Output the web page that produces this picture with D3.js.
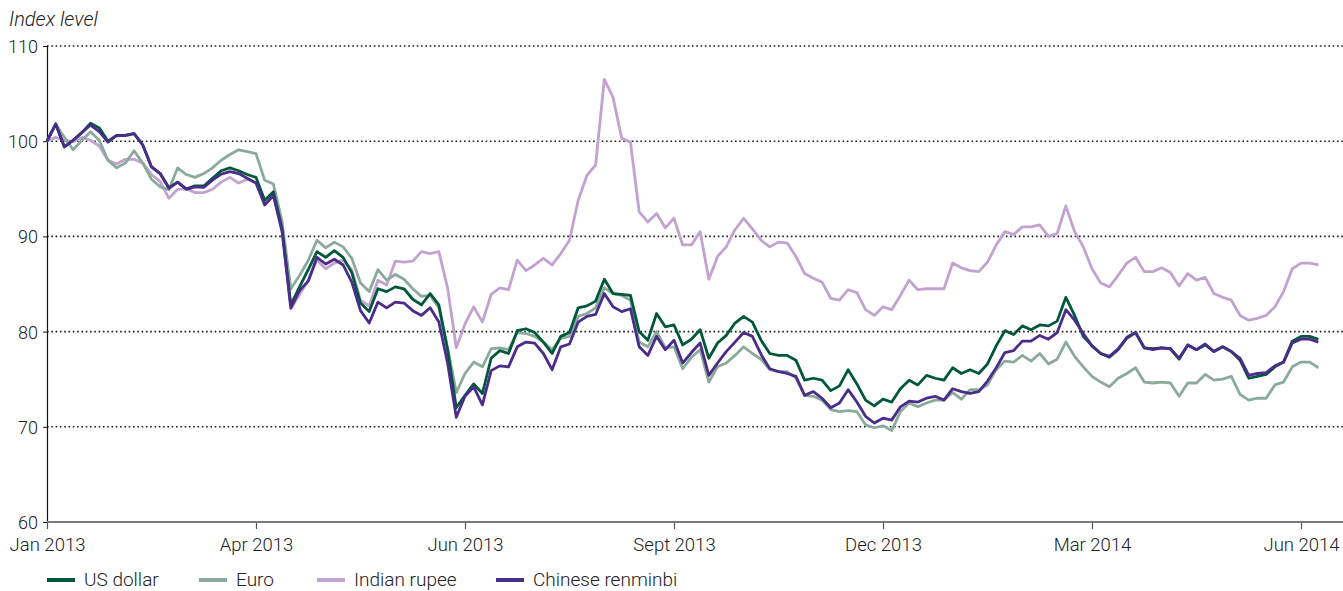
<!DOCTYPE html>
<html>
<head>
<meta charset="utf-8">
<script src="https://cdn.jsdelivr.net/npm/d3@7"></script>
<style>
  html, body { margin: 0; padding: 0; background: #fff; }
  svg text { font-family: Roboto, "Liberation Sans", Arial, sans-serif; font-weight: 300; fill: #222; }
</style>
</head>
<body>
<svg id="chart" width="1343" height="591"></svg>
<script>
// ---- data (index level, sampled 24 points per tick period) ----
const tickLabels = ["Jan 2013", "Apr 2013", "Jun 2013", "Sept 2013", "Dec 2013", "Mar 2014", "Jun 2014"];
const samplesPerPeriod = 24;
const yTicks = [60, 70, 80, 90, 100, 110];

const seriesNames = ["US dollar", "Euro", "Indian rupee", "Chinese renminbi"];

const usDollar = [
  100.0, 101.8, 99.4, 100.1, 100.9, 101.9, 101.4, 100.0, 100.6, 100.6,
  100.8, 99.6, 97.3, 96.6, 95.1, 95.7, 95.0, 95.3, 95.3, 96.1,
  96.9, 97.2, 96.9, 96.5, 96.2, 93.8, 94.7, 90.8, 82.8, 84.7,
  86.5, 88.4, 87.8, 88.5, 87.8, 86.2, 83.0, 82.1, 84.5, 84.2,
  84.7, 84.5, 83.4, 82.8, 84.0, 82.8, 78.1, 72.0, 73.3, 74.5,
  73.5, 77.2, 78.0, 77.7, 80.1, 80.3, 79.9, 78.9, 77.7, 79.5,
  79.9, 82.5, 82.7, 83.2, 85.5, 84.0, 83.9, 83.8, 80.0, 79.1,
  81.9, 80.5, 80.7, 78.6, 79.2, 80.2, 77.2, 78.8, 79.6, 80.9,
  81.6, 81.0, 79.1, 77.7, 77.5, 77.5, 77.0, 74.9, 75.1, 74.9,
  73.8, 74.3, 76.0, 74.5, 72.8, 72.2, 72.9, 72.6, 74.0, 74.9,
  74.4, 75.4, 75.1, 74.9, 76.2, 75.6, 76.0, 75.6, 76.6, 78.5,
  80.1, 79.7, 80.6, 80.2, 80.7, 80.6, 81.1, 83.6, 81.7, 79.5,
  78.5, 77.7, 77.3, 78.1, 79.3, 79.9, 78.3, 78.2, 78.3, 78.2,
  77.1, 78.6, 78.1, 78.6, 77.9, 78.4, 77.9, 77.0, 75.1, 75.3,
  75.5, 76.3, 76.8, 79.0, 79.5, 79.5, 79.2
];

const euro = [
  100.0, 101.8, 100.4, 99.1, 100.1, 101.0, 100.1, 98.0, 97.2, 97.7,
  99.0, 97.7, 96.0, 95.2, 94.9, 97.2, 96.5, 96.2, 96.6, 97.2,
  98.0, 98.6, 99.1, 98.9, 98.7, 95.9, 95.5, 91.5, 84.5, 85.9,
  87.5, 89.6, 88.8, 89.4, 88.9, 87.7, 85.1, 84.2, 86.5, 85.4,
  86.0, 85.5, 84.5, 83.7, 83.8, 82.5, 78.3, 73.6, 75.6, 76.8,
  76.3, 78.2, 78.3, 78.1, 79.9, 79.8, 79.5, 78.9, 78.1, 79.3,
  79.5, 81.6, 81.9, 82.5, 84.6, 84.0, 83.8, 83.3, 78.9, 78.4,
  80.0, 78.3, 78.4, 76.1, 77.3, 78.1, 74.7, 76.3, 76.7, 77.5,
  78.4, 77.7, 77.1, 76.0, 75.8, 75.8, 75.1, 73.3, 73.2, 72.8,
  71.8, 71.6, 71.7, 71.6, 70.2, 69.9, 70.1, 69.6, 71.6, 72.5,
  72.1, 72.5, 72.8, 72.8, 73.6, 72.9, 73.9, 73.9, 74.4, 76.0,
  76.9, 76.8, 77.5, 76.9, 77.7, 76.6, 77.1, 78.9, 77.4, 76.3,
  75.3, 74.7, 74.2, 75.1, 75.6, 76.2, 74.7, 74.6, 74.7, 74.6,
  73.2, 74.6, 74.6, 75.5, 74.9, 75.0, 75.3, 73.4, 72.8, 73.0,
  73.0, 74.4, 74.7, 76.3, 76.8, 76.8, 76.2
];

const indianRupee = [
  100.0, 100.4, 100.1, 99.95, 100.4, 100.1, 99.5, 98.0, 97.6, 98.1,
  98.1, 97.7, 96.5, 95.75, 94.0, 94.95, 95.0, 94.6, 94.6, 94.95,
  95.7, 96.2, 95.6, 96.0, 95.6, 93.6, 94.3, 90.5, 82.4, 83.9,
  85.4, 87.5, 86.6, 87.2, 87.5, 86.5, 83.3, 82.7, 85.4, 84.9,
  87.4, 87.3, 87.4, 88.4, 88.2, 88.4, 84.6, 78.3, 80.8, 82.6,
  81.0, 83.9, 84.6, 84.4, 87.5, 86.4, 87.0, 87.7, 87.0, 88.2,
  89.6, 93.8, 96.4, 97.5, 106.5, 104.6, 100.3, 99.9, 92.6, 91.5,
  92.4, 90.9, 91.9, 89.1, 89.1, 90.5, 85.5, 87.9, 88.9, 90.7,
  91.9, 90.8, 89.6, 88.9, 89.4, 89.3, 87.9, 86.1, 85.6, 85.2,
  83.5, 83.3, 84.4, 84.1, 82.3, 81.7, 82.6, 82.3, 83.8, 85.4,
  84.4, 84.5, 84.5, 84.5, 87.2, 86.7, 86.4, 86.3, 87.3, 89.1,
  90.5, 90.2, 91.0, 91.0, 91.2, 90.0, 90.3, 93.2, 90.5, 88.9,
  86.6, 85.1, 84.7, 85.9, 87.2, 87.8, 86.3, 86.3, 86.7, 86.2,
  84.8, 86.1, 85.4, 85.7, 84.0, 83.6, 83.3, 81.7, 81.2, 81.4,
  81.7, 82.6, 84.2, 86.6, 87.2, 87.2, 87.0
];

const chineseRenminbi = [
  100.0, 101.8, 99.4, 100.1, 100.9, 101.7, 101.0, 99.9, 100.6, 100.6,
  100.8, 99.6, 97.3, 96.6, 95.05, 95.7, 94.95, 95.2, 95.15, 95.9,
  96.55, 96.8, 96.6, 96.1, 95.6, 93.3, 94.3, 90.5, 82.5, 84.3,
  85.3, 87.8, 87.1, 87.6, 87.0, 85.2, 82.2, 80.9, 83.1, 82.5,
  83.1, 83.0, 82.2, 81.7, 82.5, 81.0, 76.7, 71.0, 73.2, 74.2,
  72.3, 75.9, 76.4, 76.3, 78.4, 78.9, 78.8, 77.7, 76.0, 78.4,
  78.7, 81.0, 81.6, 81.8, 84.0, 82.6, 82.1, 82.4, 78.4, 77.5,
  79.5, 78.1, 79.1, 76.7, 77.8, 78.8, 75.4, 76.7, 77.9, 78.9,
  79.9, 79.5, 77.6, 76.1, 75.8, 75.6, 75.3, 73.3, 73.7, 73.0,
  72.0, 72.5, 73.9, 72.6, 71.1, 70.4, 70.9, 70.7, 72.1, 72.7,
  72.6, 73.0, 73.2, 72.8, 74.0, 73.7, 73.5, 73.7, 74.8, 76.2,
  77.8, 78.0, 79.0, 79.0, 79.6, 79.2, 79.9, 82.3, 81.2, 79.8,
  78.5, 77.7, 77.4, 78.2, 79.4, 79.9, 78.3, 78.1, 78.3, 78.2,
  77.2, 78.6, 78.1, 78.7, 77.9, 78.4, 77.9, 77.2, 75.4, 75.6,
  75.7, 76.4, 76.8, 78.8, 79.2, 79.2, 78.9
];

// ---- styling ----
const colors = {
  "US dollar": "#00573c",
  "Euro": "#8aab9b",
  "Indian rupee": "#c2a2d0",
  "Chinese renminbi": "#4a2c8a"
};
const seriesData = {
  "US dollar": usDollar,
  "Euro": euro,
  "Indian rupee": indianRupee,
  "Chinese renminbi": chineseRenminbi
};
const drawOrder = ["Indian rupee", "Euro", "US dollar", "Chinese renminbi"];

const plot = { left: 47, right: 1343, top: 46, bottom: 522 };
const lastTick = (tickLabels.length - 1) * samplesPerPeriod;

const svg = d3.select("#chart");

const x = d3.scaleLinear().domain([0, lastTick]).range([plot.left, 1301]);
const y = d3.scaleLinear().domain([60, 110]).range([plot.bottom, plot.top]);

// gridlines (dotted)
svg.append("g").selectAll("line")
  .data(yTicks.filter(v => v > 60))
  .join("line")
  .attr("x1", plot.left).attr("x2", plot.right)
  .attr("y1", d => y(d)).attr("y2", d => y(d))
  .attr("stroke", "#1a1a1a")
  .attr("stroke-width", 1.6)
  .attr("stroke-dasharray", "1.6,2.7");

// y axis
const yAxis = d3.axisLeft(y).tickValues(yTicks).tickSize(4).tickPadding(5).tickFormat(d3.format("d"));
const gy = svg.append("g").attr("transform", `translate(${plot.left},0)`).call(yAxis);
gy.select(".domain").attr("stroke", "#111").attr("stroke-width", 1.2);
gy.selectAll(".tick line").attr("stroke", "#111");
gy.selectAll(".tick text").style("font-size", "18px").attr("fill", "#222").attr("dy", "0.36em");

// x axis
const tickVals = tickLabels.map((d, i) => i * samplesPerPeriod);
const xAxis = d3.axisBottom(x).tickValues(tickVals).tickSize(7).tickPadding(9)
  .tickFormat((d, i) => tickLabels[i]);
const gx = svg.append("g").attr("transform", `translate(0,${plot.bottom})`).call(xAxis);
gx.select(".domain").remove();
gx.append("line").attr("x1", plot.left).attr("x2", plot.right).attr("y1", 0).attr("y2", 0)
  .attr("stroke", "#7a7a7a").attr("stroke-width", 2);
gx.selectAll(".tick line").attr("stroke", "#555").attr("stroke-width", 1.2);
gx.selectAll(".tick text").style("font-size", "18.5px").attr("fill", "#222");

// axis title
svg.append("text").attr("x", 9).attr("y", 26)
  .style("font-size", "20px").style("font-style", "italic").text("Index level");

// lines
const line = d3.line().x((d, i) => x(i)).y(d => y(d)).curve(d3.curveLinear);
svg.append("g").selectAll("path")
  .data(drawOrder)
  .join("path")
  .attr("d", name => line(seriesData[name]))
  .attr("fill", "none")
  .attr("stroke", name => colors[name])
  .attr("stroke-width", 2.8)
  .attr("stroke-linejoin", "round");

// legend
const legendX = [47, 199, 317, 496];
const lg = svg.append("g");
seriesNames.forEach((name, i) => {
  const g = lg.append("g").attr("transform", `translate(${legendX[i]},580)`);
  g.append("line").attr("x1", 0).attr("x2", 28).attr("y1", 0).attr("y2", 0)
    .attr("stroke", colors[name]).attr("stroke-width", 4);
  g.append("text").attr("x", 37).attr("y", 6).style("font-size", "19px").text(name);
});
</script>
</body>
</html>
